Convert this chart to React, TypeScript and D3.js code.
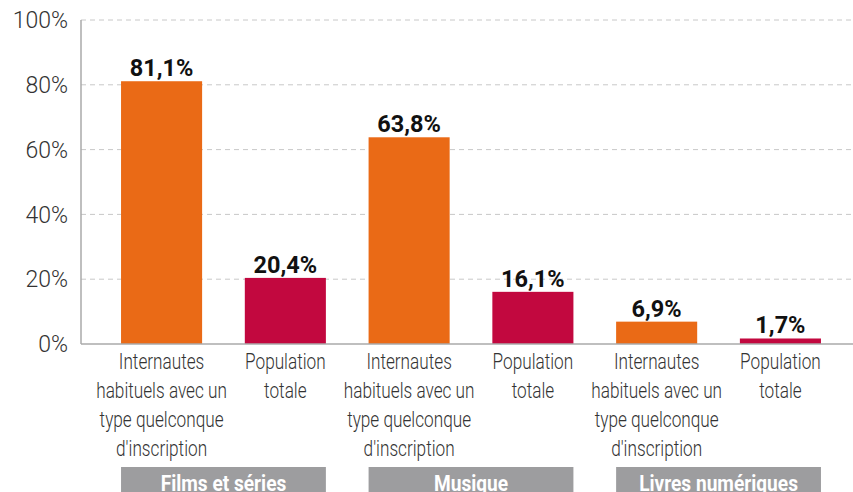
import React from "react";
import * as d3 from "d3";

const categories = ["Films et séries", "Musique", "Livres numériques"];
const seriesNames = ["Internautes habituels avec un type quelconque d'inscription", "Population totale"];
const seriesLabelLines = [
  ["Internautes", "habituels avec un", "type quelconque", "d'inscription"],
  ["Population", "totale"],
];
const internautes = [81.1, 63.8, 6.9];
const population = [20.4, 16.1, 1.7];
const yTicks = [0, 20, 40, 60, 80, 100];
const colors = ["#EA6A16", "#C2083F"];

const W = 853;
const H = 492;

export default function App() {
  const bars = categories.flatMap((c, i) => [
    { key: `${i}-0`, cat: i, s: 0, v: internautes[i] },
    { key: `${i}-1`, cat: i, s: 1, v: population[i] },
  ]);
  const x = d3.scaleBand<string>().domain(bars.map((b) => b.key)).range([100, 842]).paddingInner(0.345).paddingOuter(0.17);
  const y = d3.scaleLinear().domain([0, 100]).range([344, 20]);
  const axisX = 81;
  const fmt = (v: number) => v.toFixed(1).replace(".", ",") + "%";
  const cond = "Roboto, sans-serif";
  return (
    <div style={{ position: "absolute", left: 0, top: 0 }}>
      <svg width={W} height={H} style={{ display: "block" }}>
        {yTicks.filter((t) => t > 0).map((t) => (
          <line key={t} x1={axisX} x2={W} y1={y(t)} y2={y(t)} stroke="#c8c8c8" strokeWidth={1} strokeDasharray="5 4" />
        ))}
        {yTicks.map((t) => (
          <text key={t} x={68} y={y(t)} dy="0.36em" textAnchor="end" fontFamily="Roboto, sans-serif" fontWeight={300} fontSize={23} fill="#333">
            {t}%
          </text>
        ))}
        {bars.map((b) => (
          <g key={b.key}>
            <rect x={x(b.key)} y={y(b.v)} width={x.bandwidth()} height={y(0) - y(b.v)} fill={colors[b.s]} />
            <text x={(x(b.key) as number) + x.bandwidth() / 2} y={y(b.v) - 5} textAnchor="middle" fontFamily="Roboto, sans-serif" fontWeight={700} fontSize={23.5} fill="#111">
              {fmt(b.v)}
            </text>
            <g transform={`translate(${(x(b.key) as number) + x.bandwidth() / 2},0) scale(0.8,1)`}>
              {seriesLabelLines[b.s].map((ln, k) => (
                <text key={k} x={0} y={369.5 + k * 28.7} textAnchor="middle" fontFamily={cond} fontWeight={300} fontSize={21.5} fill="#333">
                  {ln}
                </text>
              ))}
            </g>
          </g>
        ))}
        <line x1={axisX} x2={axisX} y1={20} y2={344} stroke="#aaa" strokeWidth={1.5} />
        <line x1={axisX} x2={W} y1={344} y2={344} stroke="#aaa" strokeWidth={1.5} />
        {categories.map((c, i) => {
          const x0 = x(`${i}-0`) as number;
          const x1 = (x(`${i}-1`) as number) + x.bandwidth();
          return (
            <g key={c}>
              <rect x={x0} y={467} width={x1 - x0} height={H - 467} fill="#9d9d9f" />
              <g transform={`translate(${(x0 + x1) / 2},0) scale(0.85,1)`}>
                <text x={0} y={491} textAnchor="middle" fontFamily={cond} fontWeight={700} fontSize={22.5} fill="#fff">
                  {c}
                </text>
              </g>
            </g>
          );
        })}
      </svg>
    </div>
  );
}
